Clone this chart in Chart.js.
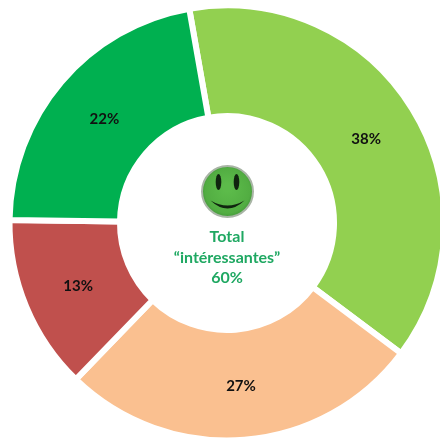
<!DOCTYPE html>
<html>
<head>
<meta charset="utf-8">
<style>
  html, body { margin: 0; padding: 0; background: #fff; overflow: hidden; width: 440px; height: 438px; }
  #wrap { position: absolute; left: 0; top: 0; width: 454px; height: 446px; }
</style>
</head>
<body>
<div id="wrap"><canvas id="donut"></canvas></div>
<script src="https://cdn.jsdelivr.net/npm/chart.js@4"></script>
<script>
const categories = ['A', 'B', 'C', 'D'];
const shares = [38, 27, 13, 22];
const sliceColors = ['#92d050', '#fac090', '#c0504d', '#00b050'];
const centerLines = ['Total', '“intéressantes”', '60%'];

// percentages on the slices
const sliceLabels = {
    id: 'sliceLabels',
    afterDatasetsDraw(chart) {
        const c = chart.ctx;
        c.save();
        c.font = 'bold 15px Lato';
        c.fillStyle = '#111';
        c.textAlign = 'center';
        c.textBaseline = 'middle';
        chart.getDatasetMeta(0).data.forEach((arc, i) => {
            const p = arc.tooltipPosition();
            c.fillText(shares[i] + '%', p.x + 1, p.y + 1);
        });
        c.restore();
    }
};

function drawSmiley(c, x, y) {
    let g = c.createRadialGradient(x, y - 4, 4, x, y, 27);
    g.addColorStop(0, '#5cbb4a');
    g.addColorStop(0.8, '#52ad42');
    g.addColorStop(1, '#3f9238');
    c.beginPath();
    c.arc(x, y, 25.5, 0, Math.PI * 2);
    c.fillStyle = g;
    c.fill();
    c.lineWidth = 2;
    c.strokeStyle = '#a9b5a6';
    c.stroke();

    // eyes
    c.fillStyle = '#10240f';
    [-9, 9].forEach(dx => {
        c.beginPath();
        c.ellipse(x + dx, y - 9.5, 2.8, 8, 0, 0, Math.PI * 2);
        c.fill();
    });

    // mouth
    c.beginPath();
    c.moveTo(x - 17, y + 9);
    c.quadraticCurveTo(x, y + 25, x + 17, y + 9);
    c.quadraticCurveTo(x, y + 19, x - 17, y + 9);
    c.fill();
}

const centerBlock = {
    id: 'centerBlock',
    afterDraw(chart) {
        const c = chart.ctx;
        c.save();
        drawSmiley(c, 227.5, 191.5);
        c.font = 'bold 16px Lato';
        c.fillStyle = '#1fa862';
        c.textAlign = 'center';
        c.textBaseline = 'middle';
        centerLines.forEach((line, i) => {
            c.fillText(line, 227, 237 + i * 20.5);
        });
        c.restore();
    }
};

new Chart(document.getElementById('donut'), {
    type: 'doughnut',
    data: {
        labels: categories,
        datasets: [{
            data: shares,
            backgroundColor: sliceColors,
            borderColor: '#fff',
            borderWidth: 6
        }]
    },
    options: {
        responsive: true,
        maintainAspectRatio: false,
        animation: false,
        rotation: -10,
        cutout: '49.2%',
        layout: { padding: 2.5 },
        plugins: { legend: { display: false }, tooltip: { enabled: false } }
    },
    plugins: [sliceLabels, centerBlock]
});
</script>
</body>
</html>
